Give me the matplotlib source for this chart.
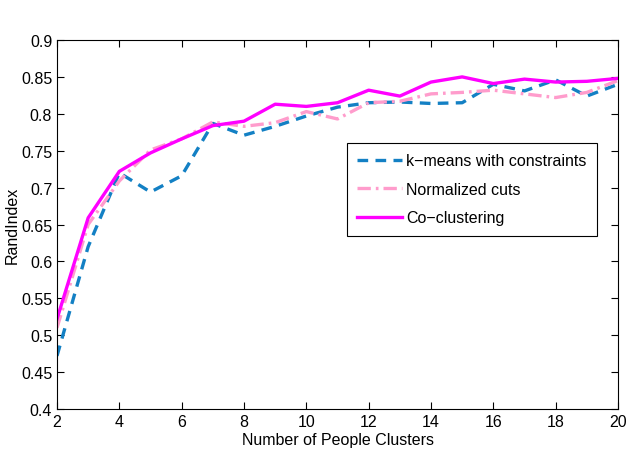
import numpy as np
import matplotlib.pyplot as plt

plt.rcParams['font.family'] = ['Liberation Sans', 'DejaVu Sans']

# number of people clusters
clusters = list(range(2, 21))

# rand index for each method
kmeans_vals = [0.472, 0.62, 0.72, 0.694, 0.716, 0.787, 0.771, 0.783, 0.797, 0.809,
               0.815, 0.816, 0.814, 0.815, 0.840, 0.831, 0.846, 0.824, 0.840]
ncuts_vals = [0.51, 0.65, 0.709, 0.751, 0.766, 0.789, 0.783, 0.788, 0.803, 0.793,
              0.815, 0.817, 0.827, 0.829, 0.832, 0.827, 0.822, 0.829, 0.845]
cocl_vals = [0.522, 0.659, 0.722, 0.747, 0.766, 0.784, 0.790, 0.813, 0.810, 0.815,
             0.832, 0.824, 0.843, 0.850, 0.841, 0.847, 0.843, 0.844, 0.848]

fs = 11.5

fig = plt.figure(figsize=(6.28, 4.52), dpi=100)
ax = fig.add_axes([57 / 628, 1 - 410 / 452, 561 / 628, 369 / 452])

ax.plot(clusters, kmeans_vals, color='#1380c4', lw=2.4, ls=(0, (3.2, 2.2)),
        label='k\u2212means with constraints')
ax.plot(clusters, ncuts_vals, color='#ff9ccc', lw=2.4, ls=(0, (4, 1.5, 0.8, 1.5)),
        label='Normalized cuts')
ax.plot(clusters, cocl_vals, color='#ff00ff', lw=2.4, label='Co\u2212clustering')

ax.set_xlim(2, 20)
ax.set_ylim(0.4, 0.9)
ax.set_xticks(range(2, 21, 2))
ax.set_yticks(np.arange(0.4, 0.91, 0.05))
ax.set_yticklabels(['0.4', '0.45', '0.5', '0.55', '0.6', '0.65', '0.7', '0.75', '0.8', '0.85', '0.9'])
ax.tick_params(direction='in', top=True, right=True, labelsize=fs, length=5, width=0.8)
for s in ax.spines.values():
    s.set_linewidth(0.8)

ax.set_xlabel('Number of People Clusters', fontsize=fs, labelpad=2)
ax.set_ylabel('RandIndex', fontsize=fs, labelpad=1)

leg = ax.legend(loc='upper left', bbox_to_anchor=(0.517, 0.721), fontsize=fs,
                frameon=True, fancybox=False, edgecolor='black', framealpha=1,
                handlelength=2.8, handletextpad=0.25, borderpad=0.65, labelspacing=0.85,
                borderaxespad=0)
leg.get_frame().set_linewidth(0.8)

fig.savefig('out.png', dpi=100)
